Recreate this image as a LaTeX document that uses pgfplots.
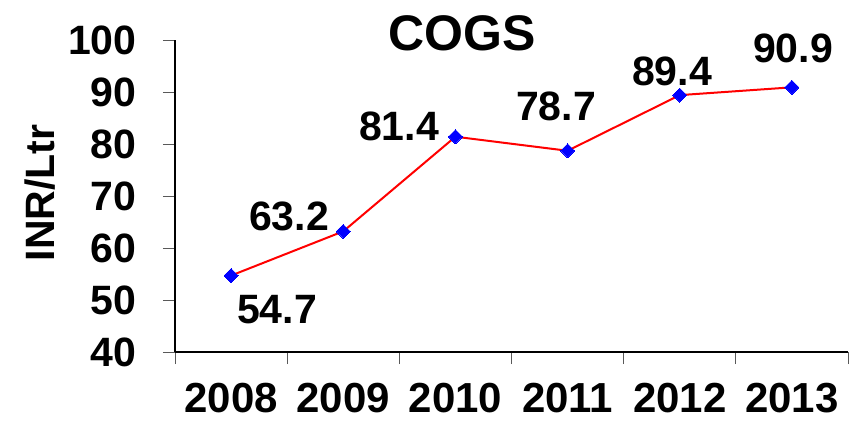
\documentclass[border=0pt]{standalone}
\usepackage{fontspec}
\setmainfont{Liberation Sans}
\usepackage{pgfplots}
\pgfplotsset{compat=1.18}
\begin{document}
\begin{tikzpicture}[x=1pt,y=1pt]
\path[use as bounding box] (0,0) rectangle (854,421);
\begin{axis}[
  at={(175pt,69pt)}, anchor=south west, scale only axis,
  width=673pt, height=312pt,
  xmin=0, xmax=6, ymin=40, ymax=100,
  axis lines*=left,
  axis line style={black, line width=1.2pt},
  xtick={0,...,6},
  xticklabels={2008,2009,2010,2011,2012,2013},
  x tick label as interval,
  ytick={40,50,...,100},
  tick align=outside, major tick length=12pt,
  tick style={gray!70!black, line width=1pt},
  ticklabel style={font=\fontsize{41}{41}\selectfont\bfseries},
  xticklabel style={yshift=-16pt, font=\fontsize{42}{42}\selectfont\bfseries},
  yticklabel style={xshift=-23pt},
  /pgf/number format/assume math mode=true,
  clip=false,
]
\addplot[red, line width=2pt, mark=square*, mark size=5pt,
  mark options={blue, fill=blue, rotate=45, line width=0pt}]
  coordinates {(0.5,54.7) (1.5,63.2) (2.5,81.4) (3.5,78.7) (4.5,89.4) (5.5,90.9)};
\end{axis}
\begin{scope}[every node/.style={font=\fontsize{41}{41}\selectfont\bfseries, inner sep=0pt}]
\node at (277,111) {54.7};
\node at (289,205) {63.2};
\node at (399,295) {81.4};
\node at (556,315) {78.7};
\node at (672,350) {89.4};
\node at (793,373) {90.9};
\node[rotate=90] at (40,228) {INR/Ltr};
\end{scope}
\node[font=\fontsize{50}{50}\selectfont\bfseries, inner sep=0pt] at (462,388) {COGS};
\end{tikzpicture}
\end{document}
